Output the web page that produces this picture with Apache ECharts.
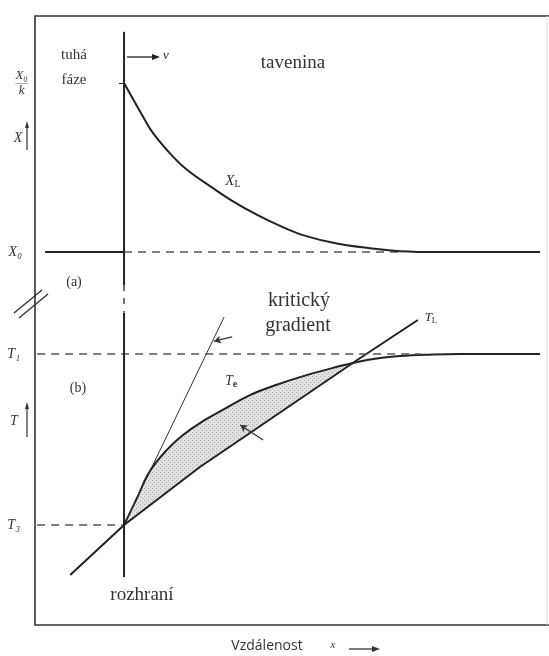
<!DOCTYPE html>
<html>
<head>
<meta charset="utf-8">
<script src="https://cdn.jsdelivr.net/npm/echarts@6/dist/echarts.min.js"></script>
<style>
  html, body { margin: 0; padding: 0; background: #fff; }
  #chart { width: 549px; height: 656px; }
</style>
</head>
<body>
<div id="chart"></div>
<script>
// (a) koncentrace v tavenine, x = vzdalenost od rozhrani
const xlX = [0, 0.45, 0.68, 1.16, 1.49, 2.10, 2.57, 3.14, 3.68, 4.22, 5.02, 5.80, 6.51, 7.45, 9.81];
const xlVal = [5.0, 4.2, 3.82, 3.25, 2.94, 2.51, 2.20, 1.88, 1.62, 1.40, 1.20, 1.09, 1.02, 1.0, 1.0];
const x0SolidX = [-1.86, 0];
const x0DashedX = [0, 6.5];
const x0Level = 1;
const topTicks = [1, 5];
const topTickLabels = ['X₀', 'X₀/k'];

// (b) teploty
const teX = [0, 0.3, 0.61, 1.01, 1.39, 1.79, 2.33, 2.97, 3.6, 4.15, 4.8, 5.45, 6.0, 6.51, 7.2, 7.92, 9.81];
const teVal = [0, 1.55, 3.15, 4.39, 5.26, 5.96, 6.73, 7.6, 8.2, 8.65, 9.1, 9.5, 9.75, 9.88, 9.96, 10.0, 10.0];
const tlX = [-1.27, 0, 1.79, 2.97, 5.50, 6.93];
const tlVal = [-2.92, 0, 3.39, 5.38, 9.65, 11.99];
const critX = [0, 2.36];
const critVal = [0, 12.16];
const crossX = 5.45;  // Te = TL
const t1X = [-2.05, 7.0];
const t3X = [-2.05, 0];
const t1Level = 10;
const t3Level = 0;
const bottomTicks = [0, 10];
const bottomTickLabels = ['T₃', 'T₁'];

// rozhrani (svisla cara)
const ifaceTop = [6.21, 0.22];
const ifaceBreak = [0.22, -0.44];
const ifaceBottom = [12.4, -3.04];

const zip = (xs, ys) => xs.map((x, i) => [x, ys[i]]);
const flat = (xs, v) => xs.map(x => [x, v]);

const ink = '#222';
const serif = 'Liberation Serif, DejaVu Serif, serif';

// teckovana vypln (podchlazena oblast)
function stipple() {
  const c = document.createElement('canvas');
  c.width = 4; c.height = 4;
  const g = c.getContext('2d');
  g.fillStyle = '#e2e2e2';
  g.fillRect(0, 0, 4, 4);
  g.fillStyle = '#a8a8a8';
  g.fillRect(0, 0, 1, 1);
  g.fillRect(2, 2, 1, 1);
  return c;
}

const chart = echarts.init(document.getElementById('chart'));

const lineBase = {
  type: 'line',
  symbol: 'none',
  clip: false,
  silent: true,
  animation: false,
  z: 3
};

const option = {
  backgroundColor: '#fff',
  grid: [
    { left: 35, right: 1, top: 19.6, bottom: 361.75 },
    { left: 35, right: 1, top: 285.6, bottom: 28.4 }
  ],
  xAxis: [
    { gridIndex: 0, type: 'value', min: -2.1, max: 10, show: false },
    { gridIndex: 1, type: 'value', min: -2.1, max: 10, show: false }
  ],
  yAxis: [
    {
      gridIndex: 0, type: 'value', min: 0, max: 6.5,
      axisLine: { show: false },
      splitLine: { show: false },
      axisTick: { show: true, customValues: topTicks, length: 5, lineStyle: { color: ink } },
      axisLabel: {
        customValues: topTicks,
        margin: 7,
        fontFamily: serif, fontStyle: 'italic', fontSize: 12, color: '#333',
        formatter: v => {
          const s = topTickLabels[topTicks.indexOf(v)];
          if (s === 'X₀/k') return '{n|X₀}\n{bar|───}\n{n|k}';
          return '{p|' + s + '}';
        },
        rich: {
          n: { fontFamily: serif, fontStyle: 'italic', fontSize: 13, lineHeight: 11, color: '#333', align: 'center' },
          bar: { fontSize: 6, lineHeight: 4, color: '#444', align: 'center' },
          p: { fontFamily: serif, fontStyle: 'italic', fontSize: 14, color: '#333', padding: [0, 6, 0, 0] }
        }
      }
    },
    {
      gridIndex: 1, type: 'value', min: -6, max: 14,
      axisLine: { show: false },
      splitLine: { show: false },
      axisTick: { show: false },
      axisLabel: {
        customValues: bottomTicks,
        margin: 15,
        fontFamily: serif, fontStyle: 'italic', fontSize: 14, color: '#333',
        formatter: v => bottomTickLabels[bottomTicks.indexOf(v)]
      }
    }
  ],
  graphic: [
    // ramecek
    { type: 'polyline', z: 100, shape: { points: [[549, 16], [35, 16], [35, 625], [549, 625]] }, style: { stroke: '#333', lineWidth: 1.6, fill: null } },
    { type: 'line', z: 100, shape: { x1: 547, y1: 16, x2: 547, y2: 625 }, style: { stroke: '#ddd', lineWidth: 1 } },
    // preruseni osy
    { type: 'line', z: 100, shape: { x1: 14, y1: 313, x2: 42, y2: 290 }, style: { stroke: '#333', lineWidth: 1.4 } },
    { type: 'line', z: 100, shape: { x1: 19, y1: 318, x2: 48, y2: 294 }, style: { stroke: '#333', lineWidth: 1.4 } },
    // sipka v
    { type: 'line', shape: { x1: 127, y1: 57, x2: 155, y2: 57 }, style: { stroke: ink, lineWidth: 1.3 } },
    { type: 'polygon', shape: { points: [[160, 57], [152, 54], [152, 60]] }, style: { fill: ink } },
    { type: 'text', left: 163, top: 49, style: { text: 'v', font: 'italic 13px ' + serif, fill: '#333' } },
    // popisky
    { type: 'text', x: 74, y: 55, style: { text: 'tuhá', font: '15px ' + serif, fill: '#333', align: 'center', verticalAlign: 'middle' } },
    { type: 'text', x: 74, y: 80, style: { text: 'fáze', font: '15px ' + serif, fill: '#333', align: 'center', verticalAlign: 'middle' } },
    { type: 'text', x: 293, y: 63, style: { text: 'tavenina', font: '19px ' + serif, fill: '#333', align: 'center', verticalAlign: 'middle' } },
    {
      type: 'text', x: 233, y: 181,
      style: {
        text: '{m|X}{s|L}', align: 'center', verticalAlign: 'middle',
        rich: {
          m: { font: 'italic 15px ' + serif, fill: '#333' },
          s: { font: '10px ' + serif, fill: '#333', padding: [7, 0, 0, 0] }
        }
      }
    },
    { type: 'text', x: 18, y: 138, style: { text: 'X', font: 'italic 14px ' + serif, fill: '#333', align: 'center', verticalAlign: 'middle' } },
    { type: 'line', shape: { x1: 27, y1: 150, x2: 27, y2: 126 }, style: { stroke: '#333', lineWidth: 1.2 } },
    { type: 'polygon', shape: { points: [[27, 121], [25, 128], [29, 128]] }, style: { fill: '#333' } },
    { type: 'text', x: 74, y: 282, style: { text: '(a)', font: '14px ' + serif, fill: '#333', align: 'center', verticalAlign: 'middle' } },
    { type: 'text', x: 78, y: 388, style: { text: '(b)', font: '14px ' + serif, fill: '#333', align: 'center', verticalAlign: 'middle' } },
    { type: 'text', x: 14, y: 421, style: { text: 'T', font: 'italic 14px ' + serif, fill: '#333', align: 'center', verticalAlign: 'middle' } },
    { type: 'line', shape: { x1: 27, y1: 437, x2: 27, y2: 408 }, style: { stroke: '#333', lineWidth: 1.2 } },
    { type: 'polygon', shape: { points: [[27, 402], [25, 409], [29, 409]] }, style: { fill: '#333' } },
    { type: 'text', x: 299, y: 301, style: { text: 'kritický', font: '20px ' + serif, fill: '#333', align: 'center', verticalAlign: 'middle' } },
    { type: 'text', x: 298, y: 326, style: { text: 'gradient', font: '20px ' + serif, fill: '#333', align: 'center', verticalAlign: 'middle' } },
    {
      type: 'text', x: 431, y: 318,
      style: {
        text: '{m|T}{s|L}', align: 'center', verticalAlign: 'middle',
        rich: {
          m: { font: 'italic 13px ' + serif, fill: '#333' },
          s: { font: '9px ' + serif, fill: '#333', padding: [6, 0, 0, 0] }
        }
      }
    },
    {
      type: 'text', x: 231, y: 381,
      style: {
        text: '{m|T}{s|e}', align: 'center', verticalAlign: 'middle',
        rich: {
          m: { font: 'italic 14px ' + serif, fill: '#333' },
          s: { font: 'bold 10px ' + serif, fill: '#333', padding: [7, 0, 0, 0] }
        }
      }
    },
    { type: 'text', x: 348, y: 449, style: { text: 'konstituční', font: '19px ' + serif, fill: '#333', align: 'center', verticalAlign: 'middle' } },
    { type: 'text', x: 348, y: 475, style: { text: 'podchlazení', font: '19px ' + serif, fill: '#333', align: 'center', verticalAlign: 'middle' } },
    { type: 'text', x: 142, y: 595, style: { text: 'rozhraní', font: '19px ' + serif, fill: '#333', align: 'center', verticalAlign: 'middle' } },
    { type: 'text', x: 267, y: 646, style: { text: 'Vzdálenost', font: '14px "Open Sans", sans-serif', fill: '#333', align: 'center', verticalAlign: 'middle' } },
    { type: 'text', x: 333, y: 645, style: { text: 'x', font: 'italic 11px ' + serif, fill: '#333', align: 'center', verticalAlign: 'middle' } },
    { type: 'line', shape: { x1: 349, y1: 649, x2: 374, y2: 649 }, style: { stroke: '#333', lineWidth: 1.3 } },
    { type: 'polygon', shape: { points: [[380, 649], [372, 646], [372, 652]] }, style: { fill: '#333' } }
  ],
  series: [
    // horni panel
    Object.assign({}, lineBase, {
      xAxisIndex: 0, yAxisIndex: 0, smooth: 0.4,
      data: zip(xlX, xlVal),
      lineStyle: { color: ink, width: 2 }
    }),
    Object.assign({}, lineBase, {
      xAxisIndex: 0, yAxisIndex: 0,
      data: flat(x0SolidX, x0Level),
      lineStyle: { color: ink, width: 2 }
    }),
    Object.assign({}, lineBase, {
      xAxisIndex: 0, yAxisIndex: 0, z: 2,
      data: flat(x0DashedX, x0Level),
      lineStyle: { color: '#555', width: 1.5, type: [8, 6] }
    }),
    Object.assign({}, lineBase, {
      xAxisIndex: 0, yAxisIndex: 0,
      data: ifaceTop.map(v => [0, v]),
      lineStyle: { color: ink, width: 2 }
    }),
    Object.assign({}, lineBase, {
      xAxisIndex: 0, yAxisIndex: 0,
      data: ifaceBreak.map(v => [0, v]),
      lineStyle: { color: '#444', width: 1.5, type: [6, 7] }
    }),
    // dolni panel: vypln pod Te (sedive) a pod TL (bile) -> zbyde pas mezi nimi
    Object.assign({}, lineBase, {
      xAxisIndex: 1, yAxisIndex: 1, z: 1, smooth: 0.4,
      data: zip(teX, teVal).filter(p => p[0] <= crossX),
      lineStyle: { width: 0 },
      areaStyle: { color: { image: stipple(), repeat: 'repeat' }, opacity: 1, origin: 0 }
    }),
    Object.assign({}, lineBase, {
      xAxisIndex: 1, yAxisIndex: 1, z: 2,
      data: zip(tlX, tlVal),
      lineStyle: { width: 0 },
      areaStyle: { color: '#fff', opacity: 1, origin: 0 }
    }),
    Object.assign({}, lineBase, {
      xAxisIndex: 1, yAxisIndex: 1, smooth: 0.4,
      data: zip(teX, teVal),
      lineStyle: { color: ink, width: 2 }
    }),
    Object.assign({}, lineBase, {
      xAxisIndex: 1, yAxisIndex: 1,
      data: zip(tlX, tlVal),
      lineStyle: { color: ink, width: 2 }
    }),
    Object.assign({}, lineBase, {
      xAxisIndex: 1, yAxisIndex: 1,
      data: zip(critX, critVal),
      lineStyle: { color: '#333', width: 1 },
      markLine: {
        silent: true, animation: false,
        symbol: ['none', 'arrow'], symbolSize: [6, 7],
        label: { show: false },
        lineStyle: { color: '#333', width: 1.3, type: 'solid' },
        data: [
          [{ coord: [2.55, 11.0] }, { coord: [2.12, 10.75] }],
          [{ coord: [3.28, 4.97] }, { coord: [2.74, 5.85] }]
        ]
      }
    }),
    Object.assign({}, lineBase, {
      xAxisIndex: 1, yAxisIndex: 1,
      data: flat(t1X, t1Level),
      lineStyle: { color: '#555', width: 1.5, type: [8, 6] }
    }),
    Object.assign({}, lineBase, {
      xAxisIndex: 1, yAxisIndex: 1,
      data: flat(t3X, t3Level),
      lineStyle: { color: '#555', width: 1.5, type: [8, 6] }
    }),
    Object.assign({}, lineBase, {
      xAxisIndex: 1, yAxisIndex: 1,
      data: ifaceBottom.map(v => [0, v]),
      lineStyle: { color: ink, width: 2 }
    })
  ]
};

chart.setOption(option);
</script>
</body>
</html>
